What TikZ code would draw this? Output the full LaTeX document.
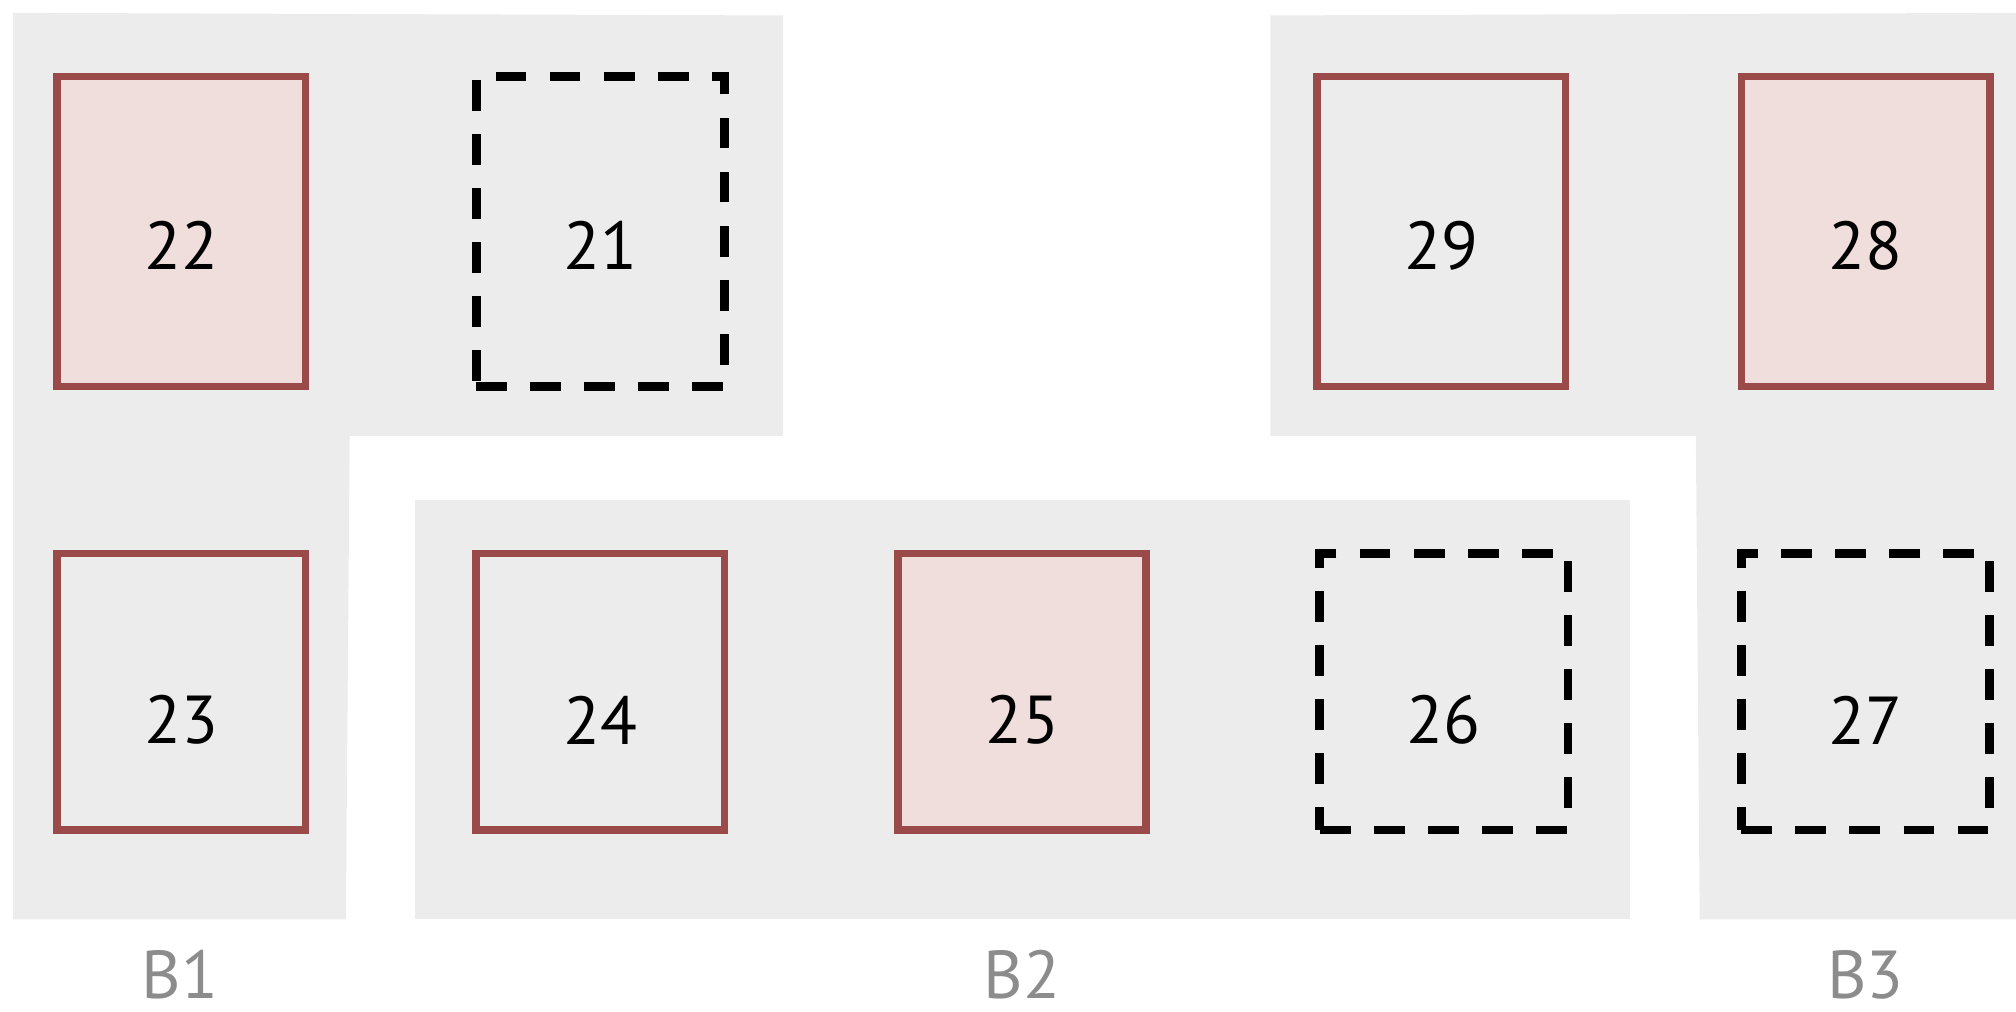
\documentclass[tikz,border=0pt]{standalone}
\usepackage{fontspec}
\setmainfont{PT Sans}
\usepackage{xcolor}
\usepackage{tikz}
\usetikzlibrary{positioning}

\definecolor{roomgray}{HTML}{ECECEC}
\definecolor{cellred}{HTML}{9B4A4A}
\definecolor{cellpink}{HTML}{EFDEDC}
\definecolor{labelgray}{HTML}{8C8C8C}

\tikzset{
  cell/.style={draw=cellred, line width=1.7pt, minimum width=1.93cm, inner sep=0pt},
  hotcell/.style={cell, fill=cellpink},
  freecell/.style={draw=black, line width=1.9pt, dash pattern=on 0.24cm off 0.18cm,
    minimum width=1.93cm, inner sep=0pt},
  num/.style={font=\fontsize{15}{18}\selectfont, inner sep=0pt},
  blocklabel/.style={font=\fontsize{15}{18}\selectfont, text=labelgray, inner sep=0pt}
}

\begin{document}
\begin{tikzpicture}[x=0.01cm, y=-0.01cm]
  \useasboundingbox (0,0) rectangle (1568,787);
  % blocks
  \fill[roomgray] (10,10) -- (609,12) -- (609,339) -- (272,339) -- (269,715) -- (10,715) -- cycle;
  \fill[roomgray] (323,389) rectangle (1268,715);
  \fill[roomgray] (988,12) -- (1568,10) -- (1568,715) -- (1322,715) -- (1319,339) -- (988,339) -- cycle;
  % upper row
  \foreach \n/\x/\s in {22/141/hotcell, 21/467/freecell, 29/1121/cell, 28/1451/hotcell}{
    \node[\s, minimum height=2.41cm] (c\n) at (\x,180) {};
    \node[num] (t\n) at (\x,191) {\n};
  }
  % lower row
  \foreach \n/\x/\s in {23/141/cell, 24/467/cell, 25/795/hotcell, 26/1123/freecell, 27/1451/freecell}{
    \node[\s, minimum height=2.15cm] (c\n) at (\x,538) {};
    \node[num] (t\n) at (\x,560) {\n};
  }
  % block names
  \node[blocklabel] (b1) at (140,758) {B1};
  \node[blocklabel] (b2) at (795,758) {B2};
  \node[blocklabel] (b3) at (1451,758) {B3};
\end{tikzpicture}
\end{document}
